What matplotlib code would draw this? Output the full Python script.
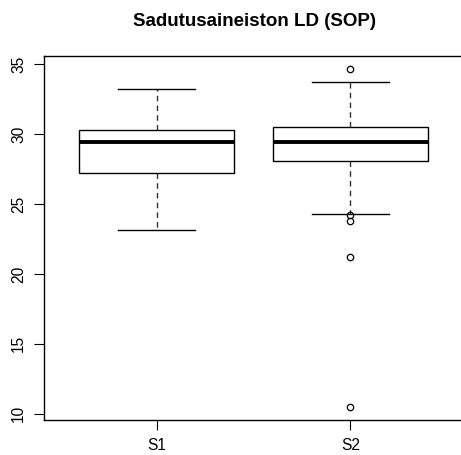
import matplotlib.pyplot as plt

plt.rcParams['font.family'] = ['Liberation Sans', 'DejaVu Sans']

labels = ['S1', 'S2']
q1 = [27.21, 28.07]
med = [29.43, 29.43]
q3 = [30.29, 30.50]
whislo = [23.14, 24.26]
whishi = [33.21, 33.69]
fliers = [[], [34.62, 24.21, 23.81, 21.24, 10.52]]

stats = [
    dict(label=lab, q1=a, med=m, q3=b, whislo=lo, whishi=hi, fliers=f)
    for lab, a, m, b, lo, hi, f in zip(labels, q1, med, q3, whislo, whishi, fliers)
]

W, H = 461, 455
fig = plt.figure(figsize=(W / 100, H / 100), dpi=100)
ax = fig.add_axes([44 / W, 1 - 420 / H, (463 - 44) / W, (420 - 56) / H])

ax.bxp(stats, positions=[1, 2], widths=0.8, patch_artist=True,
       boxprops=dict(facecolor='white', edgecolor='black', lw=1.0),
       medianprops=dict(color='black', lw=2.8, solid_capstyle='butt'),
       whiskerprops=dict(color='#333333', lw=1.0, ls=(0, (4, 3))),
       capprops=dict(color='black', lw=1.0),
       capwidths=0.4,
       flierprops=dict(marker='o', markersize=4.6, markerfacecolor='none',
                       markeredgecolor='black', markeredgewidth=0.9))

ax.set_xlim(0.42, 2.58)
ax.set_ylim(9.56, 35.58)
ax.set_yticks([10, 15, 20, 25, 30, 35])
ax.set_xticks([1, 2])
ax.set_xticklabels(labels)
ax.tick_params(axis='y', labelrotation=90, length=7, width=0.8,
               labelsize=11.2, pad=6)
ax.tick_params(axis='x', length=7, width=0.8, labelsize=11.2, pad=6)
for lab in ax.get_yticklabels():
    lab.set_va('center')
for sp in ax.spines.values():
    sp.set_linewidth(1.0)

fig.text(254.5 / W, 1 - 21 / H, 'Sadutusaineiston LD (SOP)',
         ha='center', va='center', fontsize=13.5, fontweight='bold')

fig.savefig('out.png', dpi=100)
